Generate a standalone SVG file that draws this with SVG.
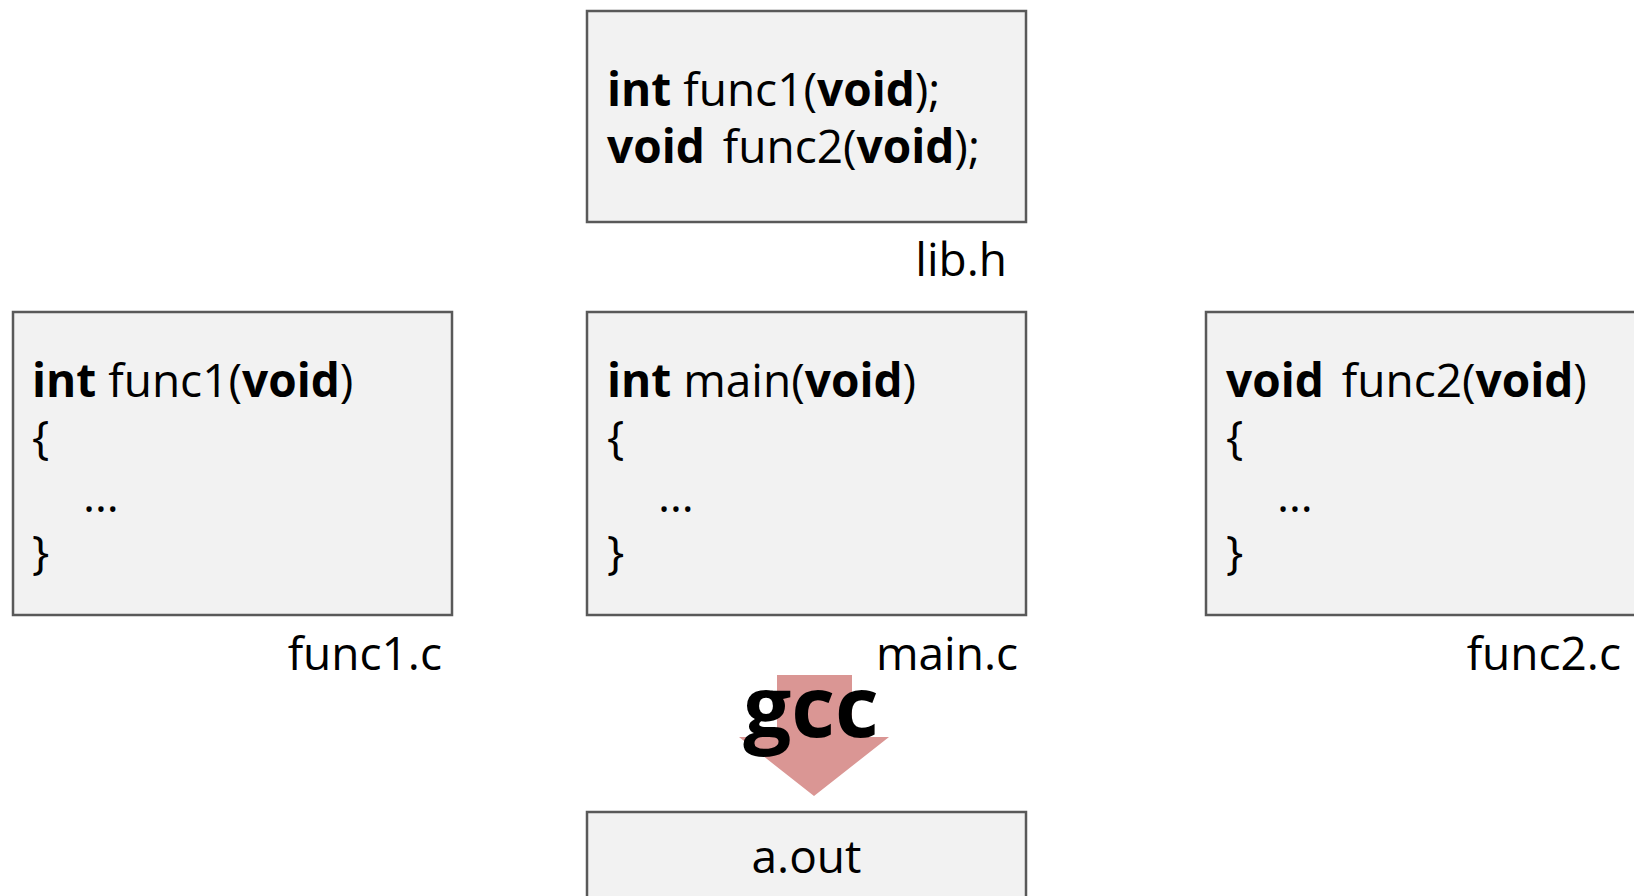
<svg xmlns="http://www.w3.org/2000/svg" width="1634" height="896" viewBox="0 0 1634 896">
<style>
.box{fill:#F2F2F2;stroke:#595959;stroke-width:2.5}
text{font-family:"Open Sans","Noto Sans",sans-serif;font-size:46px;fill:#000}
.b{font-weight:bold}
.lbl{text-anchor:end}
</style>
<rect width="1634" height="896" fill="#fff"/>
<g id="lib_h">
<rect class="box" x="587" y="11" width="439" height="211"/>
<text x="607" y="106"><tspan class="b">int</tspan> func1(<tspan class="b">void</tspan>);</text>
<text x="607" y="163"><tspan class="b">void</tspan><tspan dx="6"> func2(</tspan><tspan class="b">void</tspan>);</text>
<text class="lbl" x="1007" y="276">lib.h</text>
</g>
<g id="func1_c">
<rect class="box" x="13" y="312" width="439" height="303"/>
<text x="32" y="397"><tspan class="b">int</tspan> func1(<tspan class="b">void</tspan>)</text>
<text x="32" y="454">{</text>
<text x="83" y="512">…</text>
<text x="32" y="569">}</text>
<text class="lbl" x="442" y="670">func1.c</text>
</g>
<g id="main_c">
<rect class="box" x="587" y="312" width="439" height="303"/>
<text x="607" y="397"><tspan class="b">int</tspan> main(<tspan class="b">void</tspan>)</text>
<text x="607" y="454">{</text>
<text x="658" y="512">…</text>
<text x="607" y="569">}</text>
<text class="lbl" x="1018" y="670">main.c</text>
</g>
<g id="func2_c">
<rect class="box" x="1206" y="312" width="439" height="303"/>
<text x="1226" y="397"><tspan class="b">void</tspan><tspan dx="6"> func2(</tspan><tspan class="b">void</tspan>)</text>
<text x="1226" y="454">{</text>
<text x="1277" y="512">…</text>
<text x="1226" y="569">}</text>
<text class="lbl" x="1621" y="670">func2.c</text>
</g>
<g id="connectors">
<polygon points="777,675 852,675 852,737 889,737 814,796 739,737 777,737" fill="#DA9694"/>
<text class="b" x="811" y="737" text-anchor="middle" style="font-size:85px">gcc</text>
</g>
<g id="a_out">
<rect class="box" x="587" y="812" width="439" height="100"/>
<text x="806.5" y="873" text-anchor="middle">a.out</text>
</g>
</svg>
